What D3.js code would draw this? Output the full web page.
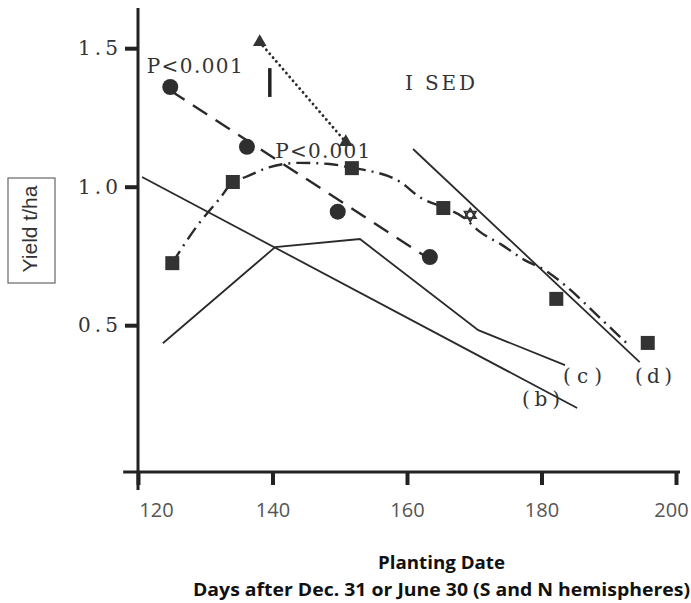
<!DOCTYPE html>
<html>
<head>
<meta charset="utf-8">
<script src="https://cdn.jsdelivr.net/npm/d3@7"></script>
<style>
  body { margin: 0; background: #fff; }
  .tw { font-family: 'DejaVu Serif', serif; fill: #333; }
</style>
</head>
<body>
<script>
// tick labels
const xTicks = [120, 140, 160, 180, 200]
const yTicks = [0.5, 1.0, 1.5]

// circles: observed yields and their fitted line
const circleDays = [124.8, 136.2, 149.7, 163.4]
const circleYield = [1.36, 1.144, 0.91, 0.746]
const circleFitDays = [124.8, 163.4]
const circleFitYield = [1.347, 0.738]

const squareDays = [125.1, 134.1, 151.8, 165.4, 182.2, 195.8]
const squareYield = [0.724, 1.017, 1.067, 0.923, 0.595, 0.436]
const squareCurveDays = [125.1, 128.9, 132.2, 134.1, 136.0, 139.6, 144.0, 148.5, 151.8, 153.8, 159.0, 161.9, 165.4, 168.3, 170.9, 174.1, 177.5, 180.5, 183.8, 188.7, 192.9]
const squareCurveYield = [0.725, 0.862, 0.959, 1.017, 1.035, 1.071, 1.086, 1.082, 1.068, 1.060, 1.017, 0.962, 0.925, 0.891, 0.836, 0.790, 0.735, 0.699, 0.638, 0.526, 0.430]

// triangles
const triangleDays = [138.1, 150.9]
const triangleYield = [1.522, 1.161]

// open star
const starDays = [169.4]
const starYield = [0.898]

// solid lines (b), (c), (d)
const lineBDays = [120.6, 185.3]
const lineBYield = [1.035, 0.201]
const lineCDays = [123.7, 140.4, 153.0, 170.6, 183.5]
const lineCYield = [0.435, 0.782, 0.811, 0.482, 0.356]
const lineDDays = [160.9, 194.6]
const lineDYield = [1.136, 0.367]

// SED bar
const sedDay = 139.6
const sedCentre = 1.376
const sedValue = 0.104

const width = 691
const height = 603

const svg = d3.select('body').append('svg')
  .attr('width', width)
  .attr('height', height)

const x = d3.scaleLinear().domain([120, 200]).range([138, 676])
const y = d3.scaleLinear().domain([0.5, 1.5]).range([325.2, 48.2])

const zip = (a, b) => a.map((d, i) => [d, b[i]])
const line = d3.line().x(d => x(d[0])).y(d => y(d[1]))

// 坐标轴
const xAxisAt = -0.03
const yAxisAt = 120
const xAxisExtent = [117.8, 200.6]
const yAxisExtent = [-0.095, 1.645]

svg.append('line')
  .attr('x1', x(xAxisExtent[0])).attr('x2', x(xAxisExtent[1]))
  .attr('y1', y(xAxisAt)).attr('y2', y(xAxisAt))
  .attr('stroke', '#222').attr('stroke-width', 3)

svg.append('line')
  .attr('x1', x(yAxisAt)).attr('x2', x(yAxisAt))
  .attr('y1', y(yAxisExtent[1])).attr('y2', y(yAxisExtent[0]))
  .attr('stroke', '#222').attr('stroke-width', 3)

const gx = svg.append('g')
  .attr('transform', `translate(0, ${y(xAxisAt)})`)
  .call(d3.axisBottom(x).tickValues(xTicks).tickSize(13).tickPadding(18))
gx.select('.domain').remove()
gx.selectAll('.tick line').attr('stroke', '#222').attr('stroke-width', 4)
gx.selectAll('.tick text')
  .attr('font-family', "'Open Sans', sans-serif")
  .attr('font-size', 20)
  .attr('fill', '#555')
  .attr('dx', d => d === 120 ? 18 : (d === 200 ? -5 : 0))

const gy = svg.append('g')
  .attr('transform', `translate(${x(yAxisAt)}, 0)`)
  .call(d3.axisLeft(y).tickValues(yTicks).tickSize(13).tickPadding(7).tickFormat(d3.format('.1f')))
gy.select('.domain').remove()
gy.selectAll('.tick line').attr('stroke', '#222').attr('stroke-width', 4)
gy.selectAll('.tick text')
  .attr('class', 'tw')
  .attr('font-size', 20)
  .attr('fill', '#444')
  .attr('textLength', 40)
  .attr('lengthAdjust', 'spacing')

// 实线 (b) (c) (d)
;[zip(lineBDays, lineBYield), zip(lineCDays, lineCYield), zip(lineDDays, lineDYield)].forEach(pts => {
  svg.append('path')
    .attr('d', line(pts))
    .attr('fill', 'none')
    .attr('stroke', '#2a2a2a')
    .attr('stroke-width', 1.8)
})

// 圆点的拟合直线（虚线）
svg.append('path')
  .attr('d', line(zip(circleFitDays, circleFitYield)))
  .attr('fill', 'none')
  .attr('stroke', '#2a2a2a')
  .attr('stroke-width', 2.4)
  .attr('stroke-dasharray', '17,10')

// 方块的拟合曲线（点划线）
svg.append('path')
  .attr('d', line.curve(d3.curveMonotoneX)(zip(squareCurveDays, squareCurveYield)))
  .attr('fill', 'none')
  .attr('stroke', '#2a2a2a')
  .attr('stroke-width', 2.4)
  .attr('stroke-dasharray', '14,6,2,6')
line.curve(d3.curveLinear)

// 三角形之间的点线
svg.append('path')
  .attr('d', line(zip(triangleDays, triangleYield)))
  .attr('fill', 'none')
  .attr('stroke', '#2a2a2a')
  .attr('stroke-width', 2.8)
  .attr('stroke-linecap', 'round')
  .attr('stroke-dasharray', '0.1,5')

// SED
svg.append('line')
  .attr('x1', x(sedDay)).attr('x2', x(sedDay))
  .attr('y1', y(sedCentre - sedValue / 2)).attr('y2', y(sedCentre + sedValue / 2))
  .attr('stroke', '#222').attr('stroke-width', 3.5)

// 标记
svg.selectAll('circle.obs')
  .data(zip(circleDays, circleYield))
  .join('circle')
  .attr('class', 'obs')
  .attr('cx', d => x(d[0])).attr('cy', d => y(d[1]))
  .attr('r', 8)
  .attr('fill', '#2e2e2e')

svg.selectAll('rect.obs')
  .data(zip(squareDays, squareYield))
  .join('rect')
  .attr('class', 'obs')
  .attr('x', d => x(d[0]) - 7).attr('y', d => y(d[1]) - 7)
  .attr('width', 14).attr('height', 14)
  .attr('fill', '#333')

svg.selectAll('path.tri')
  .data(zip(triangleDays, triangleYield))
  .join('path')
  .attr('class', 'tri')
  .attr('d', d3.symbol(d3.symbolTriangle, 80))
  .attr('transform', d => `translate(${x(d[0])}, ${y(d[1])})`)
  .attr('fill', '#333')

const starGroup = svg.selectAll('g.star')
  .data(zip(starDays, starYield))
  .join('g')
  .attr('class', 'star')
  .attr('transform', d => `translate(${x(d[0])}, ${y(d[1])})`)
starGroup.append('path')
  .attr('d', d3.symbol(d3.symbolTriangle, 55))
  .attr('fill', '#fff').attr('stroke', '#333').attr('stroke-width', 1.8)
starGroup.append('path')
  .attr('d', d3.symbol(d3.symbolTriangle, 55))
  .attr('transform', 'rotate(180)')
  .attr('fill', 'none').attr('stroke', '#333').attr('stroke-width', 1.8)

// 文字注释
const notes = [
  { text: 'P<0.001', day: 121.3, yield: 1.41, size: 20, len: 96 },
  { text: 'P<0.001', day: 140.4, yield: 1.104, size: 20, len: 95 },
  { text: 'I SED', day: 159.7, yield: 1.349, size: 20, len: 70 },
  { text: '(b)', day: 177.1, yield: 0.208, size: 20, len: 38 },
  { text: '(c)', day: 183.2, yield: 0.291, size: 20, len: 39 },
  { text: '(d)', day: 193.9, yield: 0.291, size: 20, len: 37 }
]
svg.selectAll('text.note')
  .data(notes)
  .join('text')
  .attr('class', 'note tw')
  .attr('x', d => x(d.day))
  .attr('y', d => y(d.yield))
  .attr('font-size', d => d.size)
  .attr('textLength', d => d.len)
  .attr('lengthAdjust', 'spacing')
  .text(d => d.text)

// 纵轴标题（带框）
svg.append('rect')
  .attr('x', 8).attr('y', 178)
  .attr('width', 47).attr('height', 105)
  .attr('fill', 'none')
  .attr('stroke', '#666')
  .attr('stroke-width', 1.2)

svg.append('text')
  .attr('transform', 'translate(37, 229) rotate(-90)')
  .attr('text-anchor', 'middle')
  .attr('font-family', "'Liberation Sans', Arial, sans-serif")
  .attr('font-size', 21)
  .attr('fill', '#333')
  .text('Yield t/ha')

// 横轴标题
svg.append('text')
  .attr('x', 441.5).attr('y', 569)
  .attr('text-anchor', 'middle')
  .attr('font-family', "'Open Sans', sans-serif")
  .attr('font-weight', 700)
  .attr('font-size', 17)
  .attr('fill', '#111')
  .attr('textLength', 127)
  .attr('lengthAdjust', 'spacingAndGlyphs')
  .text('Planting Date')

svg.append('text')
  .attr('x', 441.5).attr('y', 596)
  .attr('text-anchor', 'middle')
  .attr('font-family', "'Open Sans', sans-serif")
  .attr('font-weight', 700)
  .attr('font-size', 17)
  .attr('fill', '#111')
  .attr('textLength', 497)
  .attr('lengthAdjust', 'spacingAndGlyphs')
  .text('Days after Dec. 31 or June 30 (S and N hemispheres)')
</script>
</body>
</html>
